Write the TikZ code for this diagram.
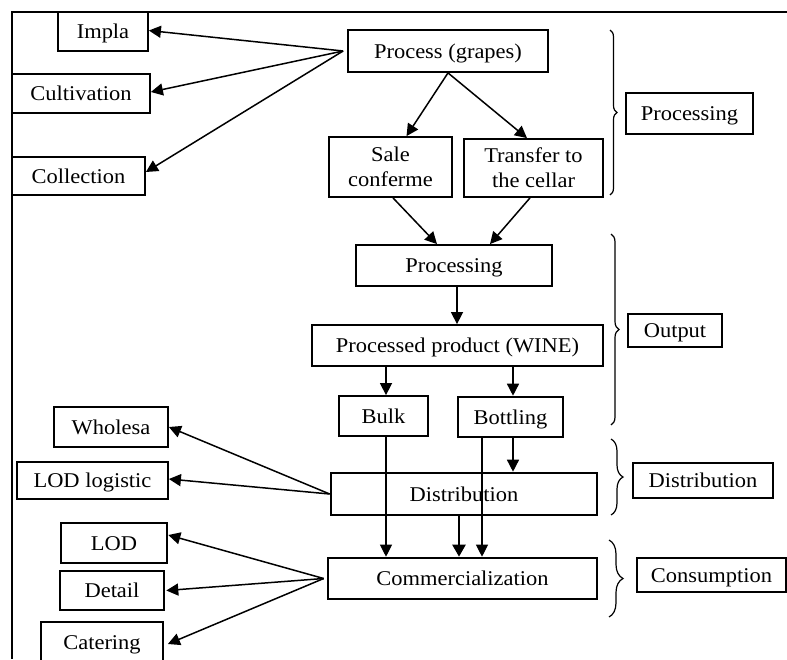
\documentclass[tikz,border=0pt]{standalone}
\usepackage{fontspec}
\setmainfont{Liberation Serif}[FakeStretch=1.07]
\usetikzlibrary{arrows.meta,decorations.pathreplacing}
\tikzset{
  box/.style={draw, line width=1.8pt, inner sep=0pt, align=center,
    font=\fontsize{21}{25}\selectfont, text height=15pt, text depth=1pt},
  twoline/.style={text height=, text depth=},
  tbox/.style={box, line width=2.6pt},
  arr/.style={line width=1.5pt, -{Triangle[length=12pt,width=12pt]}},
  tharr/.style={line width=2.3pt, -{Triangle[length=12pt,width=13pt]}},
  thinarr/.style={line width=1.1pt, -{Triangle[length=12pt,width=12pt]}},
  brc/.style={decorate, decoration={brace, amplitude=#1}, line width=1.2pt},
  brc/.default=8pt,
  frame/.style={line width=1.5pt}
}
\begin{document}
\begin{tikzpicture}[x=1pt,y=-1pt]
\clip (0,0) rectangle (787,659);
\fill[white] (0,0) rectangle (787,659);
% frame
\coordinate (fA) at (787,12);
\coordinate (fB) at (12,12);
\coordinate (fC) at (12,659);
\draw[frame] (fA) -- (fB) -- (fC);

% left nodes (top)
\node[box, minimum width=90pt, minimum height=39pt] (impla) at (103,31.5) {Impla};
\node[box, minimum width=138pt, minimum height=39pt] (cult) at (81,93.5) {Cultivation};
\node[box, minimum width=133pt, minimum height=38pt] (coll) at (78.5,176) {Collection};

% main column
\node[box, minimum width=200pt, minimum height=42pt] (proc) at (448,51) {Process (grapes)};
\node[box, twoline, minimum width=123pt, minimum height=60pt] (sale) at (390.5,167) {Sale\\conferme};
\node[box, twoline, minimum width=139pt, minimum height=58pt] (transfer) at (533.5,168) {Transfer to\\the cellar};
\node[box, minimum width=196pt, minimum height=41pt] (processing) at (454,265.5) {Processing};
\node[box, minimum width=291pt, minimum height=41pt] (wine) at (457.5,345.5) {Processed product (WINE)};
\node[box, minimum width=89pt, minimum height=40pt] (bulk) at (383.5,416) {Bulk};
\node[tbox, minimum width=105pt, minimum height=40pt] (bottling) at (510.5,417) {Bottling};
\node[tbox, minimum width=266pt, minimum height=42pt] (distr) at (464,494) {Distribution};
\node[tbox, minimum width=269pt, minimum height=41pt] (comm) at (462.5,578.5) {Commercialization};

% right labels
\node[box, minimum width=127pt, minimum height=41pt] (lproc) at (689.5,113.5) {Processing};
\node[tbox, minimum width=94pt, minimum height=33pt] (lout) at (675,330.5) {Output};
\node[tbox, minimum width=140pt, minimum height=35pt] (ldist) at (703,480.5) {Distribution};
\node[box, minimum width=149pt, minimum height=34pt] (lcons) at (711.5,575) {Consumption};

% left nodes (bottom)
\node[box, minimum width=114pt, minimum height=40pt] (whole) at (111,427) {Wholesa};
\node[box, minimum width=151pt, minimum height=37pt] (lodlog) at (92.5,480.5) {LOD logistic};
\node[tbox, minimum width=106pt, minimum height=40pt] (lod) at (114,543) {LOD};
\node[tbox, minimum width=104pt, minimum height=39pt] (detail) at (112,590.5) {Detail};
\node[box, minimum width=122pt, minimum height=40pt] (cater) at (102,642) {Catering};

% arrows from Process (grapes)
\draw[arr] ([xshift=-4pt]proc.west) -- ([yshift=1pt]impla.east);
\draw[arr] ([xshift=-4pt]proc.west) -- ([yshift=1.5pt]cult.east);
\draw[arr] ([xshift=-4pt]proc.west) -- ([yshift=4pt]coll.east);
\draw[arr] (proc.south) -- ([xshift=16pt]sale.north);
\draw[arr] (proc.south) -- ([xshift=-6.5pt]transfer.north);
\draw[arr] ([xshift=2.5pt]sale.south) -- ([xshift=-17pt]processing.north);
\draw[arr] ([xshift=-3.5pt]transfer.south) -- ([xshift=36pt]processing.north);
\draw[arr] ([xshift=3pt]processing.south) -- ([xshift=3pt]processing.south |- wine.north);
\draw[arr] ([xshift=2.5pt]bulk.north |- wine.south) -- ([xshift=2.5pt]bulk.north);
\draw[arr] ([xshift=2.5pt]bottling.north |- wine.south) -- ([xshift=2.5pt]bottling.north);

% lines to distribution / commercialization
\draw[thinarr] ([xshift=2.5pt]bulk.south) -- ([xshift=2.5pt]bulk.south |- comm.north);
\draw[thinarr] ([xshift=-28.5pt]bottling.south) -- ([xshift=-28.5pt]bottling.south |- comm.north);
\draw[arr] ([xshift=2.5pt]bottling.south) -- ([xshift=2.5pt]bottling.south |- distr.north);
\draw[tharr] ([xshift=-5pt]distr.south) -- ([xshift=-5pt]distr.south |- comm.north);

% arrows from Distribution
\draw[arr] (distr.west) -- (whole.east);
\draw[arr] (distr.west) -- ([yshift=1.5pt]lodlog.east);
% arrows from Commercialization
\draw[arr] ([xshift=-3pt]comm.west) -- ([yshift=8pt]lod.east);
\draw[arr] ([xshift=-3pt]comm.west) -- ([xshift=1pt]detail.east);
\draw[arr] ([xshift=-3pt]comm.west) -- ([xshift=4pt,yshift=-2pt]cater.east);

% braces
\coordinate (b1t) at (610,30);
\coordinate (b1b) at (610,195);
\coordinate (b2t) at (611,234);
\coordinate (b2b) at (611,425);
\coordinate (b3t) at (611,439);
\coordinate (b3b) at (611,515);
\coordinate (b4t) at (609,540);
\coordinate (b4b) at (609,617);
\draw[brc=7pt] (b1t) -- (b1b);
\draw[brc=8pt] (b2t) -- (b2b);
\draw[brc=12pt] (b3t) -- (b3b);
\draw[brc=14pt] (b4t) -- (b4b);
\end{tikzpicture}
\end{document}
